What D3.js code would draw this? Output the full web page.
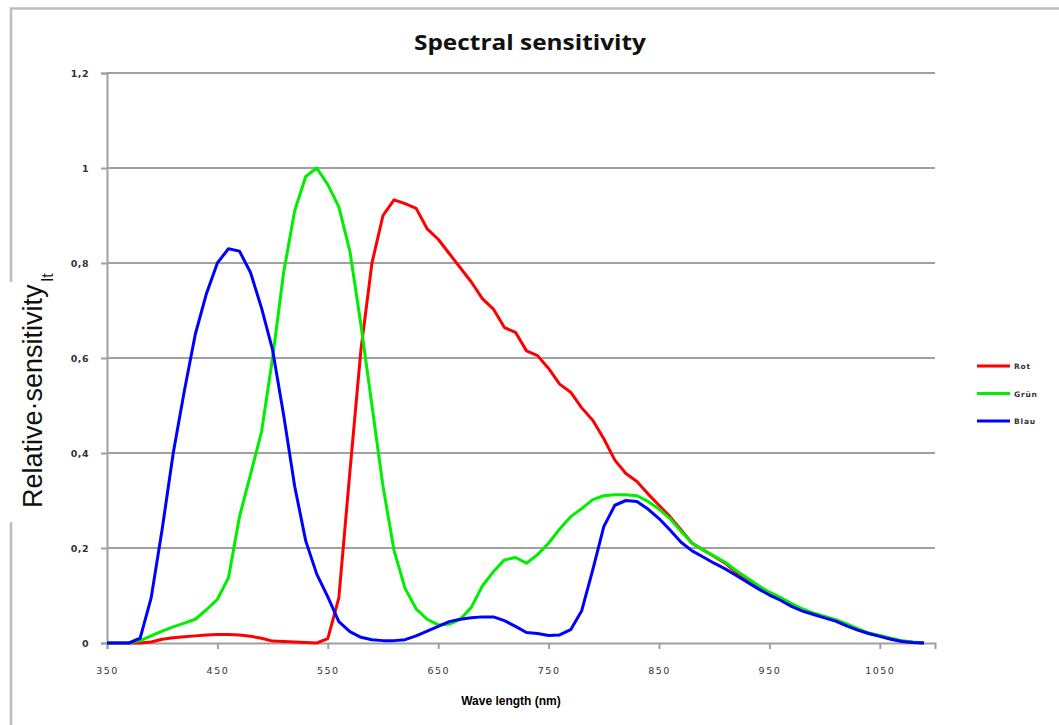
<!DOCTYPE html>
<html>
<head>
<meta charset="utf-8">
<script src="https://cdn.jsdelivr.net/npm/d3@7"></script>
<style>
  body { margin: 0; background: #fff; }
  svg { display: block; }
</style>
</head>
<body>
<div id="chart"></div>
<script>
// wavelength in nm, one reading every 10 nm
const wavelengths = d3.range(350, 1091, 10);

const rot = [
  0, 0, 0, 0, 0.002, 0.008, 0.011, 0.013, 0.015, 0.017,
  0.018, 0.018, 0.017, 0.014, 0.01, 0.004, 0.003, 0.002, 0.001, 0,
  0.009, 0.095, 0.36, 0.617, 0.8, 0.9, 0.933, 0.925, 0.915, 0.872,
  0.85, 0.82, 0.79, 0.76, 0.725, 0.703, 0.664, 0.654, 0.615, 0.605,
  0.578, 0.545, 0.528, 0.495, 0.469, 0.43, 0.385, 0.357, 0.34, 0.314,
  0.29, 0.266, 0.238, 0.21, 0.196, 0.182, 0.168, 0.148, 0.133, 0.118,
  0.104, 0.093, 0.079, 0.07, 0.062, 0.055, 0.047, 0.038, 0.028, 0.02,
  0.015, 0.009, 0.004, 0.001, 0
];

const gruen = [
  0, 0, 0, 0.005, 0.015, 0.025, 0.034, 0.042, 0.05, 0.07,
  0.092, 0.137, 0.266, 0.355, 0.445, 0.6, 0.78, 0.91, 0.982, 1.0,
  0.965, 0.918, 0.825, 0.67, 0.5, 0.33, 0.195, 0.115, 0.072, 0.05,
  0.038, 0.04, 0.05, 0.075, 0.12, 0.15, 0.175, 0.18, 0.168, 0.186,
  0.21, 0.24, 0.266, 0.283, 0.302, 0.31, 0.312, 0.312, 0.31, 0.298,
  0.282, 0.262, 0.235, 0.21, 0.196, 0.183, 0.17, 0.152, 0.137, 0.121,
  0.107, 0.096, 0.083, 0.072, 0.063, 0.056, 0.049, 0.04, 0.03, 0.021,
  0.016, 0.01, 0.005, 0.002, 0
];

const blau = [
  0, 0, 0, 0.01, 0.095, 0.24, 0.4, 0.53, 0.65, 0.735,
  0.8, 0.83, 0.825, 0.78, 0.705, 0.617, 0.48, 0.33, 0.215, 0.145,
  0.097, 0.045, 0.024, 0.012, 0.007, 0.005, 0.005, 0.007, 0.015, 0.025,
  0.035, 0.045, 0.05, 0.053, 0.055, 0.055, 0.047, 0.035, 0.022, 0.02,
  0.016, 0.017, 0.028, 0.068, 0.154, 0.245, 0.29, 0.3, 0.298, 0.282,
  0.262, 0.238, 0.212, 0.194, 0.181, 0.168, 0.156, 0.142, 0.128, 0.114,
  0.101, 0.09, 0.077, 0.067, 0.06, 0.053, 0.046, 0.036, 0.027, 0.02,
  0.014, 0.008, 0.003, 0.001, 0
];

const seriesNames = ["Rot", "Grün", "Blau"];
const seriesColors = ["#ff0000", "#00ee00", "#0000ff"];
const xTicks = [350, 450, 550, 650, 750, 850, 950, 1050];
const yTicks = [0, 0.2, 0.4, 0.6, 0.8, 1, 1.2];
const yTickLabels = ["0", "0,2", "0,4", "0,6", "0,8", "1", "1,2"];

const width = 1059, height = 725;
const margin = { left: 107, top: 73, right: 124, bottom: 82 };

const svg = d3.select("#chart").append("svg")
    .attr("width", width)
    .attr("height", height);

// outer chart frame (only top and left visible)
svg.append("path")
    .attr("d", "M11,725 V8.5 H1059")
    .attr("fill", "none")
    .attr("stroke", "#bdbdbd")
    .attr("stroke-width", 2.5);

const x = d3.scaleLinear()
    .domain([350, 1100])
    .range([margin.left, width - margin.right]);

const y = d3.scaleLinear()
    .domain([0, 1.2])
    .range([height - margin.bottom, margin.top]);

// gridlines
svg.append("g")
    .selectAll("line")
    .data(yTicks.slice(1))
    .join("line")
    .attr("x1", margin.left)
    .attr("x2", width - margin.right)
    .attr("y1", d => y(d))
    .attr("y2", d => y(d))
    .attr("stroke", "#a0a0a0")
    .attr("stroke-width", 2);

// y axis
const yAxis = svg.append("g")
    .attr("transform", `translate(${margin.left},0)`)
    .call(d3.axisLeft(y).tickValues(yTicks)
        .tickFormat((d, i) => yTickLabels[i])
        .tickSize(6).tickPadding(12));
yAxis.select(".domain").attr("stroke", "#a0a0a0").attr("stroke-width", 2);
yAxis.selectAll(".tick line").attr("stroke", "#a0a0a0").attr("stroke-width", 2);
yAxis.selectAll("text")
    .attr("font-family", "DejaVu Sans")
    .attr("font-size", 9.5)
    .attr("font-weight", "bold")
    .attr("letter-spacing", 0.5)
    .attr("fill", "#333");

// x axis
const xAxis = svg.append("g")
    .attr("transform", `translate(0,${y(0)})`)
    .call(d3.axisBottom(x).tickValues(xTicks)
        .tickFormat(d3.format("d"))
        .tickSize(6).tickPadding(18));
xAxis.select(".domain").attr("stroke", "#a0a0a0").attr("stroke-width", 2);
xAxis.selectAll(".tick line").attr("stroke", "#a0a0a0").attr("stroke-width", 2);
xAxis.selectAll("text")
    .attr("font-family", "DejaVu Sans")
    .attr("font-size", 9.5)
    .attr("letter-spacing", 1.5)
    .attr("fill", "#333");

// curves
const line = d3.line()
    .x((d, i) => x(wavelengths[i]))
    .y(d => y(d));

[rot, gruen, blau].forEach((vals, k) => {
    svg.append("path")
        .datum(vals)
        .attr("d", line)
        .attr("fill", "none")
        .attr("stroke", seriesColors[k])
        .attr("stroke-width", 3)
        .attr("stroke-linejoin", "round");
});

// title
svg.append("text")
    .attr("x", 530)
    .attr("y", 50)
    .attr("text-anchor", "middle")
    .attr("font-family", "Open Sans")
    .attr("font-weight", "bold")
    .attr("font-size", 22)
    .attr("textLength", 232)
    .attr("lengthAdjust", "spacingAndGlyphs")
    .attr("fill", "#111")
    .text("Spectral sensitivity");

// x axis title
svg.append("text")
    .attr("x", 511)
    .attr("y", 705)
    .attr("text-anchor", "middle")
    .attr("font-family", "Liberation Sans")
    .attr("font-weight", "bold")
    .attr("font-size", 12)
    .text("Wave length (nm)");

// y axis title on a white box that hides the frame
svg.append("rect")
    .attr("x", 9).attr("y", 282)
    .attr("width", 51).attr("height", 240)
    .attr("fill", "#fff");

const yTitle = svg.append("text")
    .attr("transform", "translate(42,508) rotate(-90)")
    .attr("font-family", "Liberation Sans")
    .attr("font-size", 27)
    .attr("fill", "#111");
yTitle.append("tspan").text("Relative\u00b7sensitivity");
yTitle.append("tspan")
    .attr("dy", 11)
    .attr("dx", 3)
    .attr("font-size", 16)
    .text("lt");

// legend
const legend = svg.append("g");
seriesNames.forEach((name, k) => {
    const ly = 366 + k * 27.5;
    legend.append("line")
        .attr("x1", 977).attr("x2", 1010)
        .attr("y1", ly).attr("y2", ly)
        .attr("stroke", seriesColors[k])
        .attr("stroke-width", 3);
    legend.append("text")
        .attr("x", 1014)
        .attr("y", ly + 3)
        .attr("font-family", "DejaVu Sans")
        .attr("font-size", 7.5)
        .attr("font-weight", "bold")
        .attr("letter-spacing", 0.8)
        .attr("fill", "#333")
        .text(name);
});
</script>
</body>
</html>
